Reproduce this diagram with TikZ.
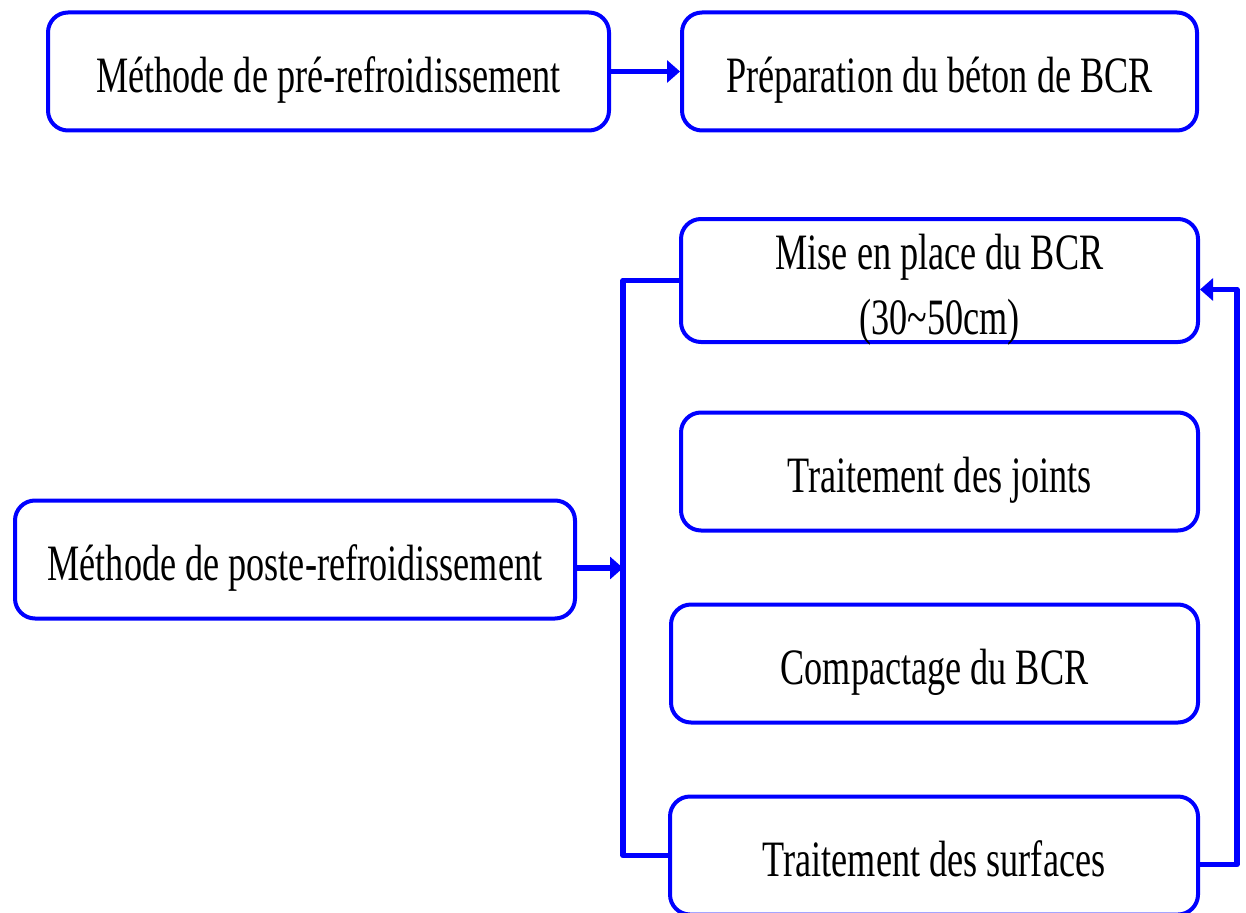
\documentclass[tikz,border=0pt]{standalone}
\usepackage{fontspec}
\setmainfont{Liberation Serif}[FakeStretch=0.71]
\usepackage{tikz}
\usetikzlibrary{calc, positioning, arrows.meta}

\begin{document}
\begin{tikzpicture}[x=1pt, y=-1pt,
        stepbox/.style={draw=blue, line width=4pt, rounded corners=20pt, fill=white,
            minimum height=118pt, align=center, inner sep=0pt,
            text height=50pt, text depth=8pt,
            font=\fontsize{51}{60}\selectfont},
        link/.style={draw=blue, line width=5.5pt},
        tip/.style={-{Triangle[length=13pt, width=22pt]}}]
            \clip (0,0) rectangle (1246,912);

            \node[stepbox, minimum width=561pt] (pre) at (328.5,71.5) {Méthode de pré-refroidissement};
            \node[stepbox, minimum width=515pt] (prep) at (939.5,71.5) {Préparation du béton de BCR};

            \node[stepbox, minimum width=517pt, text height=115pt] (mise) at (939.5,280.5) {Mise en place du BCR\\[5pt](30\textasciitilde50cm)};
            \node[stepbox, minimum width=517pt] (joints) at (939.5,471.5) {Traitement des joints};
            \node[stepbox, minimum width=527pt] (compact) at (934.5,663.5) {Compactage du BCR};
            \node[stepbox, minimum width=528pt] (surf) at (934,855.5) {Traitement des surfaces};

            \node[stepbox, minimum width=560pt] (post) at (295,559.5) {Méthode de poste-refroidissement};

            \coordinate (bus) at (623,568);
            \coordinate (back) at (1237,568);

            \draw[link, tip] (pre.east) -- (prep.west);
            \draw[link, tip] (post.east |- bus) -- (bus);
            \draw[link, line join=round] (mise.west) -| (bus) |- (surf.west);
            \draw[link, tip, line join=round] ([yshift=-9pt]surf.east) -| (back) |- ([yshift=-9pt]mise.east);
        \end{tikzpicture}
\end{document}
